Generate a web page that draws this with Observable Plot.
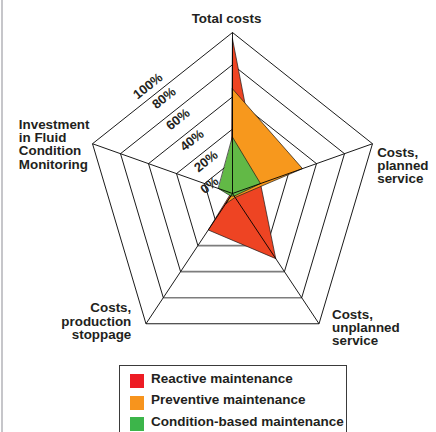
<!DOCTYPE html>
<html><head><meta charset="utf-8">
<script src="https://cdn.jsdelivr.net/npm/d3@7"></script>
<script src="https://cdn.jsdelivr.net/npm/@observablehq/plot@0.6"></script>
<style>
html,body{margin:0;padding:0;background:#fff;width:436px;height:432px;overflow:hidden;}
body{position:relative;font-family:"Liberation Sans",Arial,Helvetica,sans-serif;}
#bar{position:absolute;left:1px;top:0;width:2px;height:432px;background:#c6c6ca;}
#chart{position:absolute;left:0;top:0;}
#legend{position:absolute;left:119px;top:365px;width:228px;height:90px;border:1px solid #3a3a3a;box-sizing:border-box;}
.sw{position:absolute;left:10px;width:14px;height:14px;}
.lt{position:absolute;left:31px;font-size:13.5px;font-weight:bold;color:#231f20;line-height:14px;white-space:nowrap;}
</style>
</head><body>
<div id="bar"></div>
<div id="chart"></div>
<div id="legend"></div>
<script>
const axes = ["Total costs", "Costs,\nplanned\nservice", "Costs,\nunplanned\nservice", "Costs,\nproduction\nstoppage", "Investment\nin Fluid\nCondition\nMonitoring"];
const series = ["Reactive maintenance", "Preventive maintenance", "Condition-based maintenance"];
const reactive = [96, 20, 50, 28, 1];
const preventive = [65, 50, 3, 8, 0];
const conditionBased = [35, 20, 2, 2, 10];
const ringValues = [0, 20, 40, 60, 80, 100];
const ringLabels = ["0%", "20%", "40%", "60%", "80%", "100%"];
const fillColors = ["#ee4423", "#f7981d", "#62b946"];
const legendColors = ["#ed1c24", "#f7941d", "#3cb54a"];

const n = axes.length;
const angle = i => -Math.PI / 2 + 2 * Math.PI * i / n;
const px = (i, v) => Math.cos(angle(i)) * v / 100;
const py = (i, v) => Math.sin(angle(i)) * v / 100;

const polys = [];
[reactive, preventive, conditionBased].forEach((vals, s) =>
  vals.forEach((v, i) => polys.push({series: series[s], x: px(i, v), y: py(i, v)})));

const rings = [];
for (const r of ringValues.slice(1)) for (let i = 0; i < n; i++) {
  const j = (i + 1) % n;
  rings.push({x1: px(i, r), y1: py(i, r), x2: px(j, r), y2: py(j, r), bottom: i === 2 && r < 100});
}
const spokes = axes.map((a, i) => ({x1: 0, y1: 0, x2: px(i, 100), y2: py(i, 100)}));
const ringMid = ringValues.map((v, k) => ({
  value: v,
  label: ringLabels[k],
  x: (px(4, v) + px(0, v)) / 2,
  y: (py(4, v) + py(0, v)) / 2
}));

const font = {fontSize: 13.4, fontWeight: "bold", fill: "#231f20", lineHeight: 0.995};
const ringFont = {x: "x", y: "y", text: "label", rotate: -38.5, fontSize: 13, fontWeight: "bold", fill: "#231f20"};
const axisLabel = (i, opts) => Plot.text([axes[i]], {x: () => px(i, 100), y: () => py(i, 100), text: d => d, ...font, ...opts});

const chart = Plot.plot({
  width: 436, height: 360, margin: 0,
  x: {domain: [-1, 1], range: [232 - 147.2, 232 + 147.2], axis: null},
  y: {domain: [-1, 1], range: [32, 354], axis: null},
  color: {domain: series, range: fillColors},
  style: {fontFamily: '"Liberation Sans", Arial, Helvetica, sans-serif', background: "transparent", overflow: "visible"},
  marks: [
    Plot.link(rings.filter(d => !d.bottom), {x1: "x1", y1: "y1", x2: "x2", y2: "y2", stroke: "#000", strokeWidth: 0.9}),
    Plot.link(rings.filter(d => d.bottom), {x1: "x1", y1: "y1", x2: "x2", y2: "y2", stroke: "#7d7d7d", strokeWidth: 1.6}),
    Plot.line(polys, {x: "x", y: "y", z: "series", fill: "series", stroke: "#1a1a1a", strokeWidth: 0.7, curve: "linear-closed"}),
    Plot.link(spokes, {x1: "x1", y1: "y1", x2: "x2", y2: "y2", stroke: "#000", strokeWidth: 0.9}),
    Plot.text(ringMid.filter(d => d.value > 0 && d.value < 100), {...ringFont, dx: -12.5, dy: -11}),
    Plot.text(ringMid.filter(d => d.value === 100), {...ringFont, dx: -14.5, dy: -2}),
    Plot.text(ringMid.filter(d => d.value === 0), {...ringFont, dx: -23, dy: -8}),
    axisLabel(0, {lineAnchor: "top", textAnchor: "middle", dx: -6, dy: -18.8}),
    axisLabel(1, {lineAnchor: "top", textAnchor: "start", dx: 4.7, dy: 3.3}),
    axisLabel(2, {lineAnchor: "top", textAnchor: "start", dx: 13, dy: -14.4}),
    axisLabel(3, {lineAnchor: "top", textAnchor: "end", dx: -14.7, dy: -21}),
    axisLabel(4, {lineAnchor: "top", textAnchor: "start", dx: -73.7, dy: -24.4})
  ]
});
document.getElementById("chart").appendChild(chart);

const legend = document.getElementById("legend");
series.forEach((s, k) => {
  const sw = document.createElement("div");
  sw.className = "sw";
  sw.style.top = (8 + k * 21.7) + "px";
  sw.style.background = legendColors[k];
  legend.appendChild(sw);
  const t = document.createElement("div");
  t.className = "lt";
  t.style.top = (5.5 + k * 21.7) + "px";
  t.textContent = s;
  legend.appendChild(t);
});
</script>
</body></html>
